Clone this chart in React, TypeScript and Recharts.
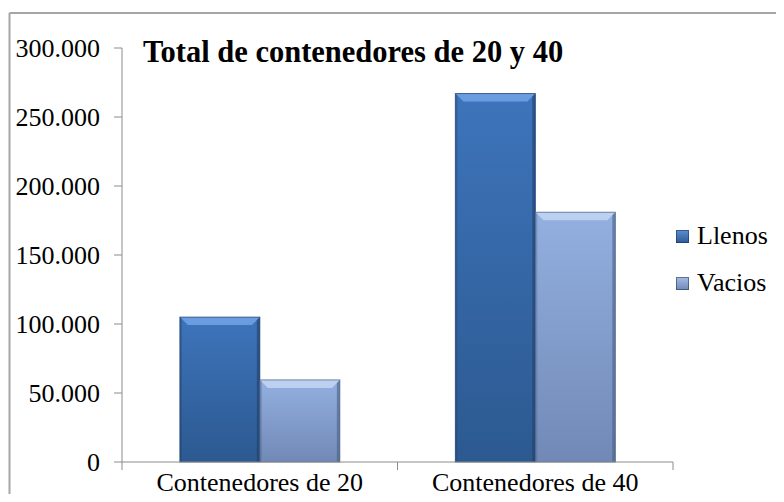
import React from 'react';
import { BarChart, Bar, XAxis, YAxis } from 'recharts';

const categories = ['Contenedores de 20', 'Contenedores de 40'];
const llenos = [105000, 267000];
const vacios = [59500, 181000];
const yTicks = [0, 50000, 100000, 150000, 200000, 250000, 300000];
const seriesNames = ['Llenos', 'Vacios'];

const data = categories.map((name, i) => ({ name, llenos: llenos[i], vacios: vacios[i] }));

const FONT = '"Liberation Serif", "Times New Roman", serif';
const AXIS = '#8c8c8c';

// 300000 -> "300.000"
const fmt = (v: number) => String(v).replace(/\B(?=(\d{3})+(?!\d))/g, '.');

const BevelBar = (props: any) => {
    const { x, y, width, height, gradId, light, dark } = props;
    if (!height || height <= 0) return null;
    const b = Math.min(8, width / 4, height / 2);
    return (
        <g>
            <rect x={x} y={y} width={width} height={height} fill={`url(#${gradId})`} />
            <polygon points={`${x},${y} ${x + width},${y} ${x + width - b},${y + b} ${x + b},${y + b}`} fill={light} />
            <polygon points={`${x + width},${y} ${x + width},${y + height} ${x + width - 3},${y + height} ${x + width - 3},${y + 3}`} fill={dark} opacity={0.6} />
            <polygon points={`${x},${y} ${x + 2},${y + 2} ${x + 2},${y + height} ${x},${y + height}`} fill={dark} opacity={0.35} />
            <rect x={x} y={y} width={width} height={height} fill="none" stroke={dark} strokeOpacity={0.7} strokeWidth={1} />
        </g>
    );
};

// category label plus the boundary tick marks Excel draws between categories
const CatTick = (props: any) => {
    const { x, y, payload, index } = props;
    const off = payload?.offset ?? 0;
    return (
        <g>
            {index === 0 && <line x1={x - off} y1={y} x2={x - off} y2={y + 8} stroke={AXIS} />}
            <line x1={x + off} y1={y} x2={x + off} y2={y + 8} stroke={AXIS} />
            <text x={x} y={y + 11} dy="0.71em" textAnchor="middle" fill="#000" fontSize={26} fontFamily={FONT}>
                {payload.value}
            </text>
        </g>
    );
};

const swatches = [
    { name: seriesNames[0], top: '#5b8fd3', bottom: '#2d5a93' },
    { name: seriesNames[1], top: '#a5bde6', bottom: '#7088b4' },
];

export default function App() {
    return (
        <div style={{ position: 'relative', width: 776, height: 502, marginTop: -8, marginBottom: -8 }}>
            <BarChart
                width={776}
                height={502}
                data={data}
                margin={{ top: 48, right: 111, bottom: 0, left: 0 }}
                barCategoryGap="21%"
                barGap={0}
            >
                <defs>
                    <linearGradient id="gLlenos" x1="0" y1="0" x2="0" y2="1">
                        <stop offset="0%" stopColor="#3d74bb" />
                        <stop offset="100%" stopColor="#2c5990" />
                    </linearGradient>
                    <linearGradient id="gVacios" x1="0" y1="0" x2="0" y2="1">
                        <stop offset="0%" stopColor="#93b0e0" />
                        <stop offset="100%" stopColor="#7189b6" />
                    </linearGradient>
                </defs>
                <XAxis
                    dataKey="name"
                    height={40}
                    axisLine={{ stroke: AXIS }}
                    tickLine={false}
                    tickSize={0}
                    tickMargin={0}
                    tick={<CatTick />}
                    interval={0}
                />
                <YAxis
                    width={114}
                    domain={[0, 300000]}
                    ticks={yTicks}
                    tickFormatter={fmt}
                    axisLine={{ stroke: AXIS }}
                    tickLine={{ stroke: AXIS }}
                    tickSize={8}
                    tickMargin={14}
                    tick={{ fill: '#000', fontSize: 26, fontFamily: FONT }}
                    interval={0}
                />
                <Bar
                    dataKey="llenos"
                    name={seriesNames[0]}
                    isAnimationActive={false}
                    shape={(p: any) => <BevelBar {...p} gradId="gLlenos" light="#6a9de0" dark="#1f3f6b" />}
                />
                <Bar
                    dataKey="vacios"
                    name={seriesNames[1]}
                    isAnimationActive={false}
                    shape={(p: any) => <BevelBar {...p} gradId="gVacios" light="#bcd0f0" dark="#4a5f85" />}
                />
            </BarChart>
            <svg
                width={776}
                height={502}
                style={{ position: 'absolute', left: 0, top: 0, pointerEvents: 'none' }}
            >
                <line x1={1.5} y1={13} x2={776} y2={13} stroke="#a6a6a6" strokeWidth={2} />
                <line x1={1.5} y1={13} x2={1.5} y2={502} stroke="#a6a6a6" strokeWidth={2} />
                <text x={135} y={62} fontSize={30.5} fontWeight="bold" fontFamily={FONT} fill="#000">
                    Total de contenedores de 20 y 40
                </text>
            </svg>
            <div style={{ position: 'absolute', left: 668, top: 221, fontFamily: FONT }}>
                {swatches.map((s) => (
                    <div key={s.name} style={{ display: 'flex', alignItems: 'center', height: 30, marginBottom: 17 }}>
                        <span
                            style={{
                                width: 13,
                                height: 13,
                                background: `linear-gradient(${s.top}, ${s.bottom})`,
                                boxShadow: 'inset 0 0 0 1px rgba(20,40,80,0.5)',
                                marginRight: 8,
                            }}
                        />
                        <span style={{ fontSize: 26, lineHeight: '30px', color: '#000' }}>{s.name}</span>
                    </div>
                ))}
            </div>
        </div>
    );
}
